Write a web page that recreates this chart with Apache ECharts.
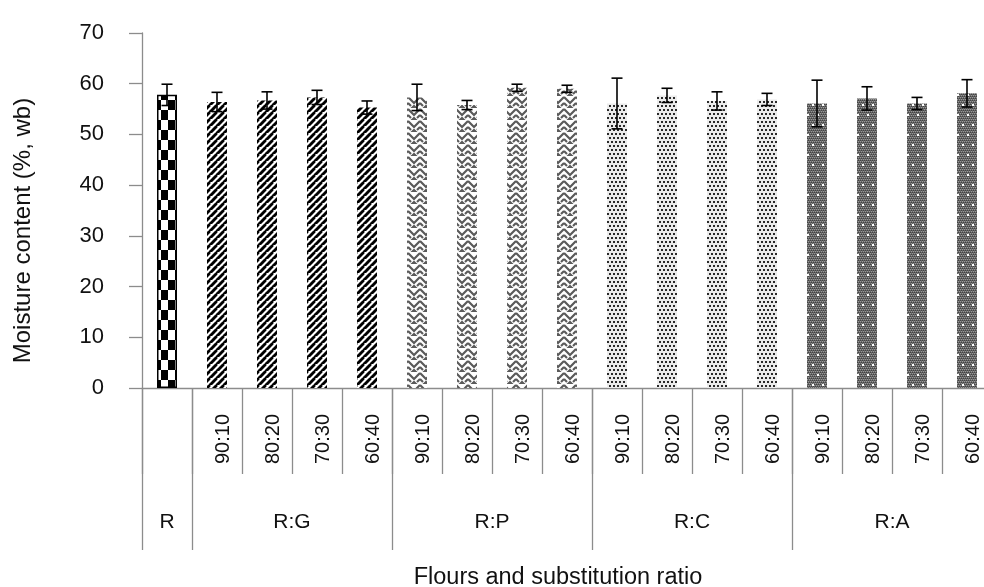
<!DOCTYPE html>
<html><head><meta charset="utf-8">
<script src="https://cdn.jsdelivr.net/npm/echarts@6/dist/echarts.min.js"></script>
<style>html,body{margin:0;padding:0;background:#fff}#c{width:984px;height:587px}</style>
</head><body><div id="c"></div>
<script>
// ---- data ----
const subLabels = ['', '90:10', '80:20', '70:30', '60:40', '90:10', '80:20', '70:30', '60:40', '90:10', '80:20', '70:30', '60:40', '90:10', '80:20', '70:30', '60:40'];
const groupNames = ['R', 'R:G', 'R:P', 'R:C', 'R:A'];
const groupSizes = [1, 4, 4, 4, 4];
const means = [57.8, 56.4, 56.7, 57.3, 55.3, 57.3, 55.8, 59.2, 59.0, 56.1, 57.7, 56.6, 56.9, 56.1, 57.1, 56.1, 58.1];
const sds = [2.1, 1.9, 1.7, 1.4, 1.3, 2.6, 0.9, 0.7, 0.7, 5.0, 1.4, 1.8, 1.2, 4.6, 2.3, 1.2, 2.7];
const yTicks = [0, 10, 20, 30, 40, 50, 60, 70];

// ---- patterns ----
function mk(w, h, draw) { const c = document.createElement('canvas'); c.width = w; c.height = h; const g = c.getContext('2d'); draw(g, w, h); return c; }
const patChecker = mk(14, 20, (g) => { g.fillStyle = '#fff'; g.fillRect(0, 0, 14, 20); g.fillStyle = '#000'; g.fillRect(0, 0, 7, 10); g.fillRect(7, 10, 7, 10); });
const patStripe = mk(7, 7, (g) => { g.fillStyle = '#fff'; g.fillRect(0, 0, 7, 7); g.strokeStyle = '#000'; g.lineWidth = 2.6;
  [[-7, 7, 0, 0], [0, 7, 7, 0], [7, 7, 14, 0], [0, 14, 14, 0], [-7, 14, 7, 0]].forEach(l => { g.beginPath(); g.moveTo(l[0], l[1]); g.lineTo(l[2], l[3]); g.stroke(); }); });
const patWeave = mk(12, 12, (g) => { g.fillStyle = '#fff'; g.fillRect(0, 0, 12, 12); g.strokeStyle = '#5a5a5a'; g.lineWidth = 2.2;
  g.beginPath(); g.moveTo(0, 1); g.lineTo(6, 7); g.lineTo(12, 1); g.stroke();
  g.beginPath(); g.moveTo(0, 7); g.lineTo(3, 10); g.stroke();
  g.beginPath(); g.moveTo(12, 7); g.lineTo(9, 10); g.stroke();
  g.beginPath(); g.moveTo(3, 13); g.lineTo(6, 10); g.lineTo(9, 13); g.stroke(); });
const patDots = mk(4, 8, (g) => { g.fillStyle = '#ececec'; g.fillRect(0, 0, 4, 8); g.fillStyle = '#2a2a2a'; g.fillRect(1, 1, 2, 2); g.fillRect(3, 5, 1, 2); g.fillRect(0, 5, 1, 2); });
const patDark = mk(10, 20, (g) => { g.fillStyle = '#666'; g.fillRect(0, 0, 10, 20);
  g.fillStyle = '#444'; for (let y = 0; y < 20; y += 2) for (let x = (y / 2) % 2; x < 10; x += 2) g.fillRect(x, y, 1, 1);
  g.fillStyle = '#999'; for (let y = 1; y < 20; y += 2) for (let x = ((y - 1) / 2) % 2; x < 10; x += 2) g.fillRect(x, y, 1, 1);
  g.fillStyle = '#fff'; g.fillRect(2, 4, 2, 2);
  g.fillRect(7, 14, 2, 2); });
const groupPatterns = [patChecker, patStripe, patWeave, patDots, patDark];

// ---- derived ----
const groupOfCat = []; const groupStart = []; let k = 0;
groupSizes.forEach((s, gi) => { groupStart.push(k); for (let i = 0; i < s; i++) { groupOfCat.push(gi); k++; } });
const startSet = new Set(groupStart);
const catIdx = subLabels.map((_, i) => String(i));

const barData = means.map((v, i) => {
  const gi = groupOfCat[i];
  return { value: v, itemStyle: { color: { image: groupPatterns[gi], repeat: 'repeat' }, borderColor: gi === 0 ? '#000' : 'transparent', borderWidth: gi === 0 ? 1.5 : 0 } };
});
const errData = means.map((v, i) => [i, v - sds[i], v + sds[i]]);
const groupData = groupNames.map((n, gi) => [groupStart[gi], 0, groupStart[gi] + groupSizes[gi] - 1]);

const axisGray = '#8c8c8c';
const FONT = 'Liberation Sans, Arial, sans-serif';

const chart = echarts.init(document.getElementById('c'), null, { renderer: 'canvas' });
chart.setOption({
  animation: false,
  grid: { left: 142, top: 33, width: 850, height: 355, containLabel: false, outerBoundsMode: 'none' },
  xAxis: [{
    type: 'category', data: catIdx, gridIndex: 0,
    axisLine: { lineStyle: { color: axisGray, width: 1.3 } },
    axisTick: { show: true, interval: 0, length: 86, lineStyle: { color: axisGray, width: 1.3 } },
    axisLabel: { interval: 0, rotate: 90, margin: 26, fontSize: 20, color: '#111', fontFamily: FONT,
      verticalAlign: 'top', lineHeight: 13,
      formatter: (v) => subLabels[+v] },
    splitLine: { show: false }
  }, {
    type: 'category', data: catIdx, gridIndex: 0, position: 'bottom',
    axisLine: { show: false },
    axisTick: { show: true, length: 162, interval: (i) => startSet.has(i), lineStyle: { color: axisGray, width: 1.3 } },
    axisLabel: { show: false },
    name: 'Flours and substitution ratio', nameLocation: 'middle', nameGap: 178,
    nameTextStyle: { fontSize: 23.5, color: '#111', fontFamily: FONT, padding: [0, 18, 0, 0] }
  }],
  yAxis: {
    type: 'value', min: 0, max: 70, interval: 10,
    axisLine: { show: true, lineStyle: { color: axisGray, width: 1.3 } },
    axisTick: { show: true, length: 13, lineStyle: { color: axisGray, width: 1.3 } },
    axisLabel: { margin: 38, fontSize: 22, color: '#111', fontFamily: FONT, formatter: (v) => yTicks.includes(v) ? String(v) : '' },
    splitLine: { show: false },
    name: 'Moisture content (%, wb)', nameLocation: 'middle', nameGap: 107,
    nameTextStyle: { fontSize: 24, color: '#111', fontFamily: FONT, padding: [0, 40, 0, 0] }
  },
  series: [{
    type: 'bar', xAxisIndex: 0, data: barData, barWidth: 20
  }, {
    type: 'custom', xAxisIndex: 0, data: errData, encode: { x: 0, y: [1, 2] }, z: 5,
    renderItem: (params, api) => {
      const lo = api.coord([api.value(0), api.value(1)]);
      const hi = api.coord([api.value(0), api.value(2)]);
      const w = 5.5, st = { stroke: '#000', lineWidth: 1.6 };
      return { type: 'group', children: [
        { type: 'line', shape: { x1: lo[0], y1: lo[1], x2: hi[0], y2: hi[1] }, style: st },
        { type: 'line', shape: { x1: lo[0] - w, y1: lo[1], x2: lo[0] + w, y2: lo[1] }, style: st },
        { type: 'line', shape: { x1: hi[0] - w, y1: hi[1], x2: hi[0] + w, y2: hi[1] }, style: st }
      ] };
    }
  }, {
    type: 'custom', xAxisIndex: 0, data: groupData, encode: { x: [0, 2], y: 1 }, clip: false,
    renderItem: (params, api) => {
      const a = api.coord([api.value(0), 0]);
      const b = api.coord([api.value(2), 0]);
      return { type: 'text', style: { text: groupNames[params.dataIndex], x: (a[0] + b[0]) / 2, y: a[1] + 134,
        align: 'center', verticalAlign: 'middle', fontSize: 21, fontFamily: FONT, fill: '#111' } };
    }
  }]
});
</script></body></html>
